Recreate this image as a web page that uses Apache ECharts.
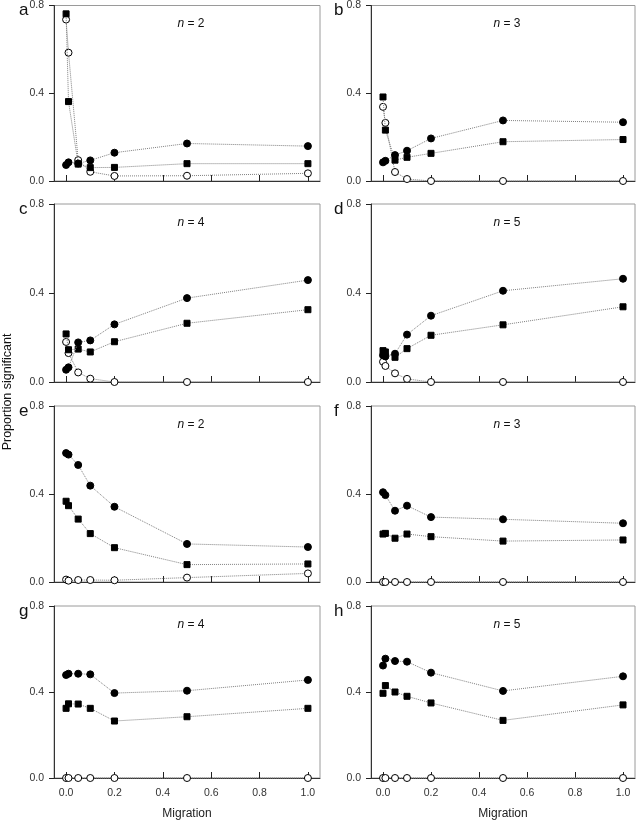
<!DOCTYPE html>
<html>
<head>
<meta charset="utf-8">
<script src="https://cdn.jsdelivr.net/npm/echarts@6/dist/echarts.min.js"></script>
<style>html,body{margin:0;padding:0;background:#fff}#c{width:638px;height:821px}</style>
</head>
<body>
<div id="c"></div>
<script>
// ---- data ----
const migration = [0, 0.01, 0.05, 0.1, 0.2, 0.5, 1.0];
const xTicks = [0, 0.2, 0.4, 0.6, 0.8, 1.0];
const yTicks = [0, 0.4, 0.8];
const panelLetters = ['a', 'b', 'c', 'd', 'e', 'f', 'g', 'h'];
const nValues = [2, 3, 4, 5, 2, 3, 4, 5];

const aFilled = [0.073, 0.085, 0.080, 0.094, 0.129, 0.171, 0.159];
const aSquare = [0.762, 0.362, 0.077, 0.061, 0.062, 0.079, 0.079];
const aOpen   = [0.736, 0.585, 0.095, 0.042, 0.023, 0.024, 0.035];

const bFilled = [0.085, 0.092, 0.118, 0.138, 0.194, 0.276, 0.268];
const bSquare = [0.383, 0.232, 0.095, 0.108, 0.126, 0.179, 0.189];
const bOpen   = [0.338, 0.265, 0.041, 0.009, 0, 0, 0];

const cFilled = [0.055, 0.066, 0.178, 0.187, 0.259, 0.377, 0.458];
const cSquare = [0.216, 0.145, 0.148, 0.135, 0.181, 0.264, 0.325];
const cOpen   = [0.180, 0.130, 0.043, 0.015, 0, 0, 0];

const dFilled = [0.120, 0.115, 0.127, 0.213, 0.298, 0.410, 0.464];
const dSquare = [0.141, 0.135, 0.111, 0.150, 0.210, 0.257, 0.338];
const dOpen   = [0.091, 0.072, 0.039, 0.014, 0, 0, 0];

const eFilled = [0.586, 0.579, 0.532, 0.438, 0.342, 0.173, 0.159];
const eSquare = [0.367, 0.347, 0.286, 0.220, 0.156, 0.079, 0.082];
const eOpen   = [0.011, 0.006, 0.009, 0.009, 0.008, 0.020, 0.039];

const fFilled = [0.408, 0.395, 0.324, 0.347, 0.295, 0.285, 0.267];
const fSquare = [0.218, 0.221, 0.199, 0.218, 0.206, 0.186, 0.191];
const fOpen   = [0, 0, 0, 0, 0, 0, 0];

const gFilled = [0.479, 0.485, 0.485, 0.482, 0.395, 0.406, 0.456];
const gSquare = [0.324, 0.345, 0.344, 0.324, 0.265, 0.285, 0.324];
const gOpen   = [0, 0, 0, 0, 0, 0, 0];

const hFilled = [0.523, 0.555, 0.544, 0.541, 0.490, 0.405, 0.473];
const hSquare = [0.394, 0.430, 0.400, 0.380, 0.349, 0.268, 0.340];
const hOpen   = [0, 0, 0, 0, 0, 0, 0];

const panelData = [
  [aFilled, aSquare, aOpen], [bFilled, bSquare, bOpen],
  [cFilled, cSquare, cOpen], [dFilled, dSquare, dOpen],
  [eFilled, eSquare, eOpen], [fFilled, fSquare, fOpen],
  [gFilled, gSquare, gOpen], [hFilled, hSquare, hOpen]
];

// ---- layout ----
const colLeft = [54, 371];
const colWidth = [266, 264];
const rowTop = [5, 204, 406, 606];
const rowHeight = [176, 178, 176, 176];
const FONT = '"Liberation Sans", Arial, sans-serif';

const grids = [], xAxes = [], yAxes = [], series = [], graphics = [];
panelData.forEach((pd, i) => {
  const col = i % 2, row = Math.floor(i / 2);
  const isBottom = row === 3;
  grids.push({
    left: colLeft[col], top: rowTop[row], width: colWidth[col], height: rowHeight[row],
    show: true, borderColor: '#9a9a9a', borderWidth: 1, backgroundColor: 'transparent'
  });
  xAxes.push({
    type: 'value', gridIndex: i, min: -0.05, max: 1.05,
    axisLine: { show: true, onZero: false, lineStyle: { color: '#333', width: 1 } },
    axisTick: { show: true, inside: true, length: 6, customValues: xTicks, lineStyle: { color: '#222' } },
    axisLabel: { show: isBottom, customValues: xTicks, margin: 10, color: '#333', fontSize: 10.5, fontFamily: FONT,
      formatter: v => v.toFixed(1) },
    splitLine: { show: false },
    name: isBottom ? 'Migration' : '', nameLocation: 'middle', nameGap: 30,
    nameTextStyle: { color: '#222', fontSize: 12, fontFamily: FONT }
  });
  yAxes.push({
    type: 'value', gridIndex: i, min: 0, max: 0.8, interval: 0.4,
    axisLine: { show: true, onZero: false, lineStyle: { color: '#333', width: 1 } },
    axisTick: { show: true, inside: false, length: 5, lineStyle: { color: '#222' } },
    axisLabel: { margin: 10, color: '#333', fontSize: 10.5, fontFamily: FONT, formatter: v => v.toFixed(1) },
    splitLine: { show: false }
  });
  const mk = (vals, symbol, fill, size, z) => ({
    type: 'line', xAxisIndex: i, yAxisIndex: i,
    data: migration.map((m, k) => [m, vals[k]]),
    symbol: symbol, symbolSize: size, showSymbol: true, clip: false, z: z,
    lineStyle: { color: '#808080', width: 1, type: 'dotted' },
    itemStyle: { color: fill, borderColor: '#000', borderWidth: 1 },
    animation: false
  });
  series.push(mk(pd[2], 'circle', '#fff', 7, 2));
  series.push(mk(pd[1], 'rect', '#000', 6, 3));
  series.push(mk(pd[0], 'circle', '#000', 7, 4));

  // panel letter
  graphics.push({
    type: 'text', left: colLeft[col] - 35 - (col === 1 ? 2 : 0), top: rowTop[row] - 3,
    style: { text: panelLetters[i], font: '17px ' + FONT, fill: '#111' }
  });
  // n = label
  graphics.push({
    type: 'text', x: colLeft[col] + colWidth[col] * 0.515, y: rowTop[row] + 19,
    style: {
      text: '{i|n} = ' + nValues[i], align: 'center', verticalAlign: 'middle',
      font: '12px ' + FONT, fill: '#111',
      rich: { i: { fontStyle: 'italic', fontSize: 12, fontFamily: FONT, fill: '#111' } }
    }
  });
});

graphics.push({
  type: 'text', x: 8, y: 392, rotation: Math.PI / 2,
  style: { text: 'Proportion significant', align: 'center', verticalAlign: 'middle', font: '12.5px ' + FONT, fill: '#111' }
});

const chart = echarts.init(document.getElementById('c'), null, { renderer: 'canvas' });
chart.setOption({
  animation: false,
  backgroundColor: '#fff',
  grid: grids, xAxis: xAxes, yAxis: yAxes, series: series, graphic: graphics
});
</script>
</body>
</html>
